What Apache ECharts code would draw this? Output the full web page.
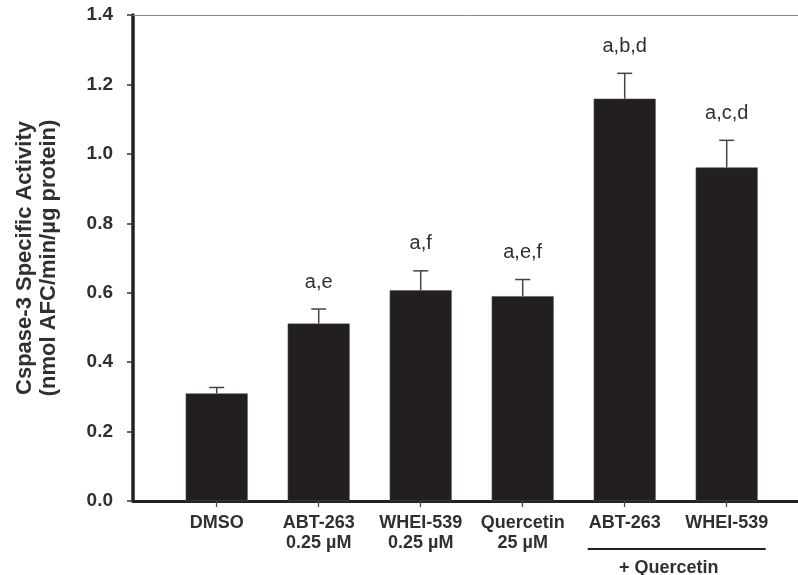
<!DOCTYPE html>
<html>
<head>
<meta charset="utf-8">
<script src="https://cdn.jsdelivr.net/npm/echarts@6/dist/echarts.min.js"></script>
<style>
  html, body { margin: 0; padding: 0; background: #fff; }
  #chart { width: 798px; height: 575px; }
</style>
</head>
<body>
<div id="chart"></div>
<script>
const categories = ['DMSO', 'ABT-263\n0.25 µM', 'WHEI-539\n0.25 µM', 'Quercetin\n25 µM', 'ABT-263', 'WHEI-539']
const means = [0.31, 0.511, 0.607, 0.59, 1.159, 0.961]
const errors = [0.017, 0.042, 0.056, 0.048, 0.073, 0.078]
const letters = ['', 'a,e', 'a,f', 'a,e,f', 'a,b,d', 'a,c,d']
const yTicks = [0, 0.2, 0.4, 0.6, 0.8, 1.0, 1.2, 1.4]

const font = 'Liberation Sans, Arial, sans-serif'
const ink = '#231f20'
const textColor = '#303030'

const chart = echarts.init(document.getElementById('chart'))

const option = {
  animation: false,
  grid: [
    { left: 133, right: 0, top: 15, bottom: 74 },
    { left: 165.7, width: 612, top: 15, bottom: 74 }
  ],
  yAxis: [
    {
      gridIndex: 0,
      type: 'value',
      min: yTicks[0],
      max: yTicks[yTicks.length - 1],
      interval: 0.2,
      name: 'Cspase-3 Specific Activity\n(nmol AFC/min/µg protein)',
      nameLocation: 'middle',
      nameGap: 72,
      nameTextStyle: { fontFamily: font, fontWeight: 'bold', fontSize: 22, lineHeight: 24, color: textColor },
      axisLine: { show: true, lineStyle: { color: '#222', width: 3.5 } },
      axisTick: { show: true, length: 6, lineStyle: { color: '#333', width: 1.5 } },
      axisLabel: {
        margin: 20,
        fontFamily: font, fontWeight: 'bold', fontSize: 19, color: textColor,
        formatter: v => v.toFixed(1)
      },
      splitLine: { show: false }
    },
    { gridIndex: 1, type: 'value', min: 0, max: 1.4, show: false }
  ],
  xAxis: [
    {
      gridIndex: 0, type: 'value', min: 0, max: 1,
      axisLine: { show: true, lineStyle: { color: '#222', width: 3 } },
      axisTick: { show: false }, axisLabel: { show: false }, splitLine: { show: false }
    },
    {
      gridIndex: 0, type: 'value', min: 0, max: 1, position: 'top',
      axisLine: { show: true, lineStyle: { color: '#888', width: 1 } },
      axisTick: { show: false }, axisLabel: { show: false }, splitLine: { show: false }
    },
    {
      gridIndex: 1, type: 'category', data: categories,
      axisLine: { show: false },
      axisTick: { show: true, alignWithLabel: true, length: 6, lineStyle: { color: '#444', width: 1.2 } },
      axisLabel: {
        margin: 12, interval: 0,
        fontFamily: font, fontWeight: 'bold', fontSize: 18, lineHeight: 20, color: textColor
      }
    }
  ],
  series: [
    {
      type: 'bar',
      xAxisIndex: 2,
      yAxisIndex: 1,
      barWidth: 62,
      data: means,
      itemStyle: { color: ink, borderColor: '#555', borderWidth: 0.5 },
      z: 2
    },
    {
      type: 'custom',
      xAxisIndex: 2,
      yAxisIndex: 1,
      data: means.map((m, i) => [i, m, m + errors[i]]),
      z: 3,
      renderItem: (params, api) => {
        const i = api.value(0)
        const base = api.coord([i, api.value(1)])
        const top = api.coord([i, api.value(2)])
        const half = 7.5
        const children = [
          { type: 'line', shape: { x1: top[0], y1: base[1], x2: top[0], y2: top[1] }, style: { stroke: '#444', lineWidth: 1.5 } },
          { type: 'line', shape: { x1: top[0] - half, y1: top[1], x2: top[0] + half, y2: top[1] }, style: { stroke: '#444', lineWidth: 1.5 } }
        ]
        if (letters[i]) {
          children.push({
            type: 'text',
            style: {
              x: top[0], y: top[1] - 27, text: letters[i],
              align: 'center', verticalAlign: 'middle',
              font: '20px ' + font, fill: textColor
            }
          })
        }
        return { type: 'group', children }
      }
    }
  ]
}

chart.setOption(option)

// bracket under the two combination groups
const p4 = chart.convertToPixel({ xAxisIndex: 2, yAxisIndex: 1 }, [4, 0])
const p5 = chart.convertToPixel({ xAxisIndex: 2, yAxisIndex: 1 }, [5, 0])
chart.setOption({
  graphic: [
    {
      type: 'line',
      shape: { x1: p4[0] - 37, y1: p4[1] + 48, x2: p5[0] + 39, y2: p4[1] + 48 },
      style: { stroke: '#222', lineWidth: 2 }
    },
    {
      type: 'text',
      style: {
        x: (p4[0] + p5[0]) / 2 - 7, y: p4[1] + 67, text: '+ Quercetin',
        align: 'center', verticalAlign: 'middle',
        font: 'bold 18px ' + font, fill: textColor
      }
    }
  ]
})
</script>
</body>
</html>
